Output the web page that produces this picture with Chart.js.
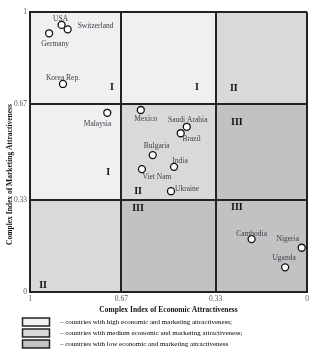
<!DOCTYPE html>
<html>
<head>
<meta charset="utf-8">
<script src="https://cdn.jsdelivr.net/npm/chart.js@4/dist/chart.umd.min.js"></script>
<style>
html, body { margin: 0; padding: 0; background: #fff; }
#wrap { width: 328px; height: 356px; }
</style>
</head>
<body>
<div id="wrap"><canvas id="matrix"></canvas></div>
<script>
// ── data ─────────────────────────────────────────────
const countries = ['USA', 'Switzerland', 'Germany', 'Korea Rep.', 'Malaysia', 'Mexico',
    'Saudi Arabia', 'Brazil', 'Bulgaria', 'India', 'Viet Nam', 'Ukraine',
    'Cambodia', 'Nigeria', 'Uganda'];
const economicIndex = [0.886, 0.864, 0.931, 0.881, 0.721, 0.600, 0.434, 0.456,
    0.557, 0.480, 0.596, 0.491, 0.200, 0.019, 0.079];
const marketingIndex = [0.954, 0.938, 0.924, 0.743, 0.640, 0.650, 0.590, 0.567,
    0.489, 0.447, 0.439, 0.360, 0.189, 0.158, 0.088];

const tickValues = [0, 0.33, 0.67, 1];
const tickLabels = ['0', '0.33', '0.67', '1'];

// zone borders (high -> low) and zone class per row (top->bottom) / column (left->right)
const zoneBounds = [1, 0.67, 0.33, 0];
const zoneLevels = [[0, 0, 1], [0, 1, 2], [1, 2, 2]];

// roman numerals inside the zones, placed in index units
const zoneLabels = ['I', 'I', 'II', 'III', 'I', 'II', 'II', 'III', 'III'];
const zoneLabelX = [0.704, 0.397, 0.264, 0.253, 0.718, 0.610, 0.953, 0.610, 0.253];
const zoneLabelY = [0.730, 0.730, 0.726, 0.605, 0.427, 0.359, 0.025, 0.299, 0.302];

const legendTexts = [
    '\u2002\u2002– countries with high economic and marketing attractiveness;',
    '\u2002\u2002– countries with medium economic and marketing attractiveness;',
    '\u2002\u2002– countries with low economic and marketing attractiveness'
];

// ── styles ───────────────────────────────────────────
const levelColors = ['#f0f0f0', '#d9d9d9', '#c2c2c2'];
const SERIF = "'Liberation Serif', 'DejaVu Serif', serif";

// label offset from the point: dx, dy, text align
const labelPlacement = {
    'USA': [-1, -6, 'center'],
    'Switzerland': [10, -3, 'left'],
    'Germany': [6, 11, 'center'],
    'Korea Rep.': [0, -6, 'center'],
    'Malaysia': [4, 11, 'right'],
    'Mexico': [5, 9, 'center'],
    'Saudi Arabia': [1, -7, 'center'],
    'Brazil': [11, 6, 'center'],
    'Bulgaria': [4, -9, 'center'],
    'India': [6, -6, 'center'],
    'Viet Nam': [15, 8, 'center'],
    'Ukraine': [4, -2, 'left'],
    'Cambodia': [0, -5, 'center'],
    'Nigeria': [-14, -9, 'center'],
    'Uganda': [-1, -9, 'center']
};

const zonesPlugin = {
    id: 'zones',
    afterLayout(chart) {
        // legend swatches sit indented under the plot
        chart.legend.left += 15.5;
        chart.legend.right += 15.5;
    },
    beforeDraw(chart) {
        const {ctx, scales: {x, y}} = chart;
        ctx.save();
        for (let r = 0; r < 3; r++) {
            for (let c = 0; c < 3; c++) {
                const x0 = x.getPixelForValue(zoneBounds[c]);
                const x1 = x.getPixelForValue(zoneBounds[c + 1]);
                const y0 = y.getPixelForValue(zoneBounds[r]);
                const y1 = y.getPixelForValue(zoneBounds[r + 1]);
                ctx.fillStyle = levelColors[zoneLevels[r][c]];
                ctx.fillRect(x0, y0, x1 - x0, y1 - y0);
            }
        }
        ctx.restore();
    },
    beforeDatasetsDraw(chart) {
        const {ctx, scales: {x, y}} = chart;
        ctx.save();
        ctx.font = 'bold 10px ' + SERIF;
        ctx.fillStyle = '#111';
        ctx.textAlign = 'center';
        ctx.textBaseline = 'middle';
        zoneLabels.forEach((t, i) => {
            ctx.fillText(t, x.getPixelForValue(zoneLabelX[i]), y.getPixelForValue(zoneLabelY[i]));
        });
        ctx.restore();
    },
    afterDatasetsDraw(chart) {
        const {ctx} = chart;
        const meta = chart.getDatasetMeta(0);
        ctx.save();
        ctx.font = '7.5px ' + SERIF;
        ctx.fillStyle = '#3a3f4a';
        ctx.textBaseline = 'middle';
        meta.data.forEach((pt, i) => {
            const p = labelPlacement[countries[i]];
            ctx.textAlign = p[2];
            ctx.fillText(countries[i], pt.x + p[0], pt.y + p[1]);
        });
        ctx.restore();
    }
};

function fixedTicks(scale) {
    scale.ticks = tickValues.map(v => ({value: v}));
}

function tickText(value) {
    const i = tickValues.indexOf(value);
    return i >= 0 ? tickLabels[i] : '';
}

const axisGrid = {color: '#222', lineWidth: 2, drawTicks: false};
const axisBorder = {display: true, color: '#222', width: 2};
const tickFont = {family: SERIF, size: 7.5};
const titleFont = {family: SERIF, size: 7.5, weight: 'bold'};

new Chart(document.getElementById('matrix'), {
    type: 'scatter',
    data: {
        datasets: [{
            label: 'Countries',
            data: countries.map((c, i) => ({x: economicIndex[i], y: marketingIndex[i]})),
            pointRadius: 3.5,
            pointHoverRadius: 3.5,
            backgroundColor: '#fff',
            borderColor: '#111',
            borderWidth: 1.3
        }]
    },
    options: {
        responsive: true,
        maintainAspectRatio: false,
        devicePixelRatio: 1,
        animation: false,
        layout: {padding: {left: 4, right: 21, top: 12, bottom: 0}},
        scales: {
            x: {
                type: 'linear',
                min: 0,
                max: 1,
                reverse: true,
                afterBuildTicks: fixedTicks,
                afterFit: s => { s.height = 23; },
                ticks: {
                    callback: tickText,
                    autoSkip: false,
                    maxRotation: 0,
                    font: tickFont,
                    color: '#555',
                    padding: 3
                },
                grid: axisGrid,
                border: axisBorder,
                title: {
                    display: true,
                    text: 'Complex Index of Economic Attractiveness',
                    font: titleFont,
                    color: '#111',
                    padding: {top: 0, bottom: 0}
                }
            },
            y: {
                type: 'linear',
                min: 0,
                max: 1,
                afterBuildTicks: fixedTicks,
                afterFit: s => { s.width = 26; },
                ticks: {
                    callback: tickText,
                    autoSkip: false,
                    font: tickFont,
                    color: '#555',
                    padding: 3
                },
                grid: axisGrid,
                border: axisBorder,
                title: {
                    display: true,
                    // trailing em spaces push the visible words a bit lower, as in the source
                    text: 'Complex Index of Marketing Attractiveness\u2003\u2003\u2003\u2003\u2003\u2003',
                    font: titleFont,
                    color: '#111',
                    padding: {top: 1.5, bottom: 0}
                }
            }
        },
        plugins: {
            tooltip: {enabled: false},
            legend: {
                position: 'bottom',
                align: 'start',
                maxHeight: 41,
                onClick: null,
                labels: {
                    boxWidth: 27,
                    boxHeight: 8,
                    padding: 3,
                    color: '#555',
                    font: {family: SERIF, size: 7},
                    generateLabels: () => legendTexts.map((t, i) => ({
                        text: t,
                        fillStyle: levelColors[i],
                        strokeStyle: '#222',
                        lineWidth: 1.5,
                        hidden: false
                    }))
                }
            }
        }
    },
    plugins: [zonesPlugin]
});
</script>
</body>
</html>
